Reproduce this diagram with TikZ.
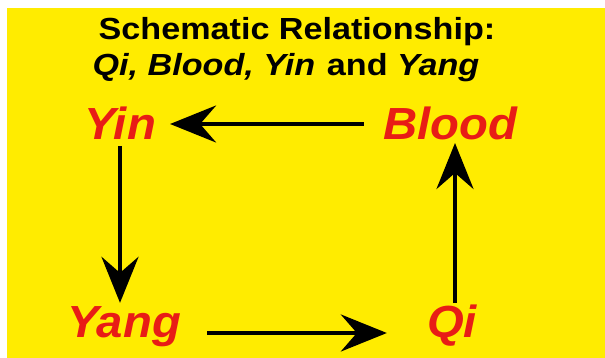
\documentclass[tikz,border=0pt]{standalone}
\usepackage{fontspec}
\setmainfont{Liberation Sans}
\newfontfamily\titlefont[FakeStretch=1.12]{Liberation Sans}
\newfontfamily\labfont[FakeStretch=1.05]{Liberation Sans}
\usetikzlibrary{arrows.meta,calc}
\definecolor{bgyellow}{RGB}{255,236,0}
\definecolor{labred}{RGB}{232,28,22}
\begin{document}
\begin{tikzpicture}[x=1pt,y=-1pt,
 lab/.style={font=\labfont\fontsize{45}{45}\selectfont\bfseries\itshape, text=labred, inner sep=0pt, anchor=base},
 ttl/.style={font=\titlefont\fontsize{30.5}{30.5}\selectfont\bfseries, inner sep=0pt, anchor=base},
 arr/.style={line width=4.2pt, -{Stealth[length=46pt,width=37pt,inset=16pt]}}]
\useasboundingbox (0,0) rectangle (605,358);
\fill[white] (0,0) rectangle (605,358);
\fill[bgyellow] (7,8) rectangle (605,358);
\node[ttl] (t1) at (297,40) {Schematic Relationship:};
\node[ttl] (t2) at (286,76) {{\itshape Qi, Blood, Yin}\hspace{0.38em}and {\itshape Yang}};
\node[lab] (yin) at (120,140) {Yin};
\node[lab] (blood) at (450,140) {Blood};
\node[lab] (yang) at (124,337) {Yang};
\node[lab] (qi) at (452,337) {Qi};
\draw[arr] ($(blood.base west)+(-19,-16)$) -- ($(yin.base east)+(14,-16)$);
\draw[arr] ($(yin.base)+(0,6)$) -- ($(yin.base |- yang.north)+(0,-3)$);
\draw[arr] ($(qi.north)+(3,-1)$) -- ($(qi.north |- blood.base)+(3,3)$);
\draw[arr] ($(yang.base east)+(26,-4)$) -- ($(qi.base west)+(-40,-4)$);
\end{tikzpicture}
\end{document}
